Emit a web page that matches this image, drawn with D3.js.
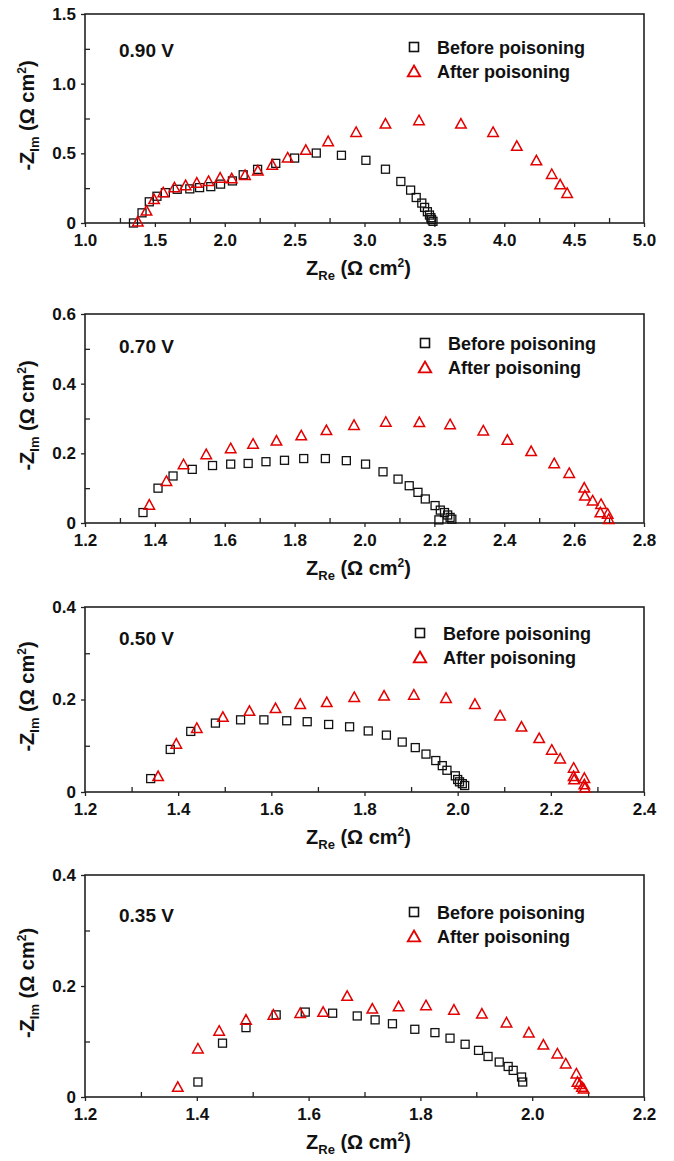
<!DOCTYPE html>
<html>
<head>
<meta charset="utf-8">
<script src="https://cdn.jsdelivr.net/npm/d3@7"></script>
<style>
  body { margin: 0; background: #fff; }
  svg { display: block; }
  text { font-family: "Liberation Sans", Arial, sans-serif; font-weight: bold; fill: #111; }
</style>
</head>
<body>
<svg id="chart" width="674" height="1161"></svg>
<script>
// panel labels and legend names
var voltages = ["0.90 V", "0.70 V", "0.50 V", "0.35 V"];
var seriesNames = ["Before poisoning", "After poisoning"];

// axis ranges and tick steps, one entry per panel
var xDomains = [[1.0, 5.0], [1.2, 2.8], [1.2, 2.4], [1.2, 2.2]];
var yDomains = [[0, 1.5], [0, 0.6], [0, 0.4], [0, 0.4]];
var majorSteps = [0.5, 0.2, 0.2, 0.2];

// [Z_Re, -Z_Im]
var before090 = [[1.347,0],[1.408,0.073],[1.46,0.152],[1.515,0.192],[1.575,0.218],[1.66,0.242],[1.75,0.245],[1.82,0.254],[1.90,0.261],[1.97,0.279],[2.055,0.302],[2.132,0.346],[2.235,0.385],[2.365,0.428],[2.50,0.466],[2.655,0.502],[2.835,0.486],[3.01,0.45],[3.15,0.386],[3.26,0.298],[3.33,0.236],[3.37,0.183],[3.41,0.143],[3.43,0.112],[3.45,0.081],[3.465,0.057],[3.475,0.038],[3.48,0.024],[3.49,0.012]];
var after090 = [[1.378,0.01],[1.44,0.088],[1.494,0.17],[1.56,0.219],[1.64,0.255],[1.72,0.27],[1.80,0.288],[1.884,0.30],[1.967,0.324],[2.05,0.319],[2.145,0.343],[2.237,0.376],[2.34,0.417],[2.45,0.469],[2.58,0.524],[2.74,0.586],[2.94,0.652],[3.15,0.712],[3.39,0.736],[3.69,0.712],[3.92,0.652],[4.09,0.552],[4.23,0.448],[4.34,0.35],[4.40,0.276],[4.45,0.214]];

var before070 = [[1.366,0.030],[1.409,0.100],[1.452,0.135],[1.507,0.154],[1.565,0.165],[1.617,0.169],[1.667,0.171],[1.718,0.176],[1.771,0.180],[1.826,0.185],[1.888,0.185],[1.948,0.179],[2.003,0.169],[2.053,0.147],[2.096,0.126],[2.128,0.107],[2.153,0.088],[2.174,0.069],[2.202,0.050],[2.217,0.037],[2.229,0.030],[2.238,0.023],[2.245,0.016],[2.250,0.011],[2.213,0.009]];
var after070 = [[1.384,0.052],[1.433,0.120],[1.482,0.168],[1.547,0.197],[1.617,0.214],[1.681,0.227],[1.748,0.236],[1.819,0.251],[1.891,0.266],[1.970,0.281],[2.061,0.290],[2.157,0.289],[2.245,0.283],[2.340,0.265],[2.409,0.238],[2.477,0.206],[2.543,0.171],[2.586,0.143],[2.629,0.101],[2.631,0.078],[2.653,0.064],[2.677,0.054],[2.675,0.030],[2.696,0.026],[2.699,0.011]];

var before050 = [[1.341,0.029],[1.383,0.092],[1.427,0.131],[1.480,0.149],[1.534,0.156],[1.584,0.156],[1.633,0.154],[1.677,0.152],[1.723,0.146],[1.768,0.141],[1.808,0.132],[1.847,0.123],[1.881,0.108],[1.909,0.096],[1.932,0.082],[1.953,0.068],[1.967,0.057],[1.977,0.047],[1.995,0.035],[2.000,0.027],[2.004,0.022],[2.010,0.018],[2.015,0.014]];
var after050 = [[1.357,0.034],[1.396,0.104],[1.440,0.138],[1.496,0.162],[1.553,0.175],[1.609,0.181],[1.662,0.190],[1.719,0.194],[1.778,0.205],[1.842,0.208],[1.906,0.210],[1.975,0.203],[2.037,0.190],[2.091,0.165],[2.137,0.141],[2.175,0.116],[2.202,0.091],[2.220,0.072],[2.249,0.052],[2.249,0.034],[2.250,0.027],[2.272,0.030],[2.272,0.016],[2.273,0.009]];

var before035 = [[1.402,0.027],[1.446,0.097],[1.488,0.125],[1.542,0.148],[1.594,0.153],[1.643,0.151],[1.687,0.146],[1.719,0.139],[1.750,0.132],[1.790,0.122],[1.826,0.116],[1.853,0.106],[1.880,0.095],[1.904,0.084],[1.921,0.073],[1.941,0.063],[1.957,0.055],[1.966,0.048],[1.981,0.036],[1.983,0.027]];
var after035 = [[1.366,0.018],[1.402,0.087],[1.440,0.119],[1.488,0.139],[1.537,0.148],[1.585,0.151],[1.626,0.153],[1.669,0.182],[1.714,0.159],[1.761,0.163],[1.810,0.165],[1.860,0.157],[1.910,0.150],[1.954,0.134],[1.994,0.116],[2.020,0.094],[2.045,0.078],[2.060,0.060],[2.079,0.042],[2.081,0.027],[2.085,0.023],[2.089,0.018],[2.092,0.015]];

var beforeSets = [before090, before070, before050, before035];
var afterSets = [after090, after070, after050, after035];

// where each panel sits on the page
var layout = [
  { top: 14,  height: 209, labelY: 43, legY: 33, legX: 414 },
  { top: 314, height: 209, labelY: 39, legY: 29, legX: 425 },
  { top: 607, height: 185, labelY: 38, legY: 26, legX: 420 },
  { top: 875, height: 222, labelY: 47, legY: 37, legX: 414 }
];
var left = 85, right = 644;
var red = "#e30000";

var svg = d3.select("#chart");

function triPath(w, h) {
  return "M0," + (-h * 0.55) + "L" + (w / 2) + "," + (h * 0.45) + "L" + (-w / 2) + "," + (h * 0.45) + "Z";
}

function stepValues(d0, d1, step) {
  var n = Math.round((d1 - d0) / step);
  return d3.range(n + 1).map(function(i) { return +(d0 + i * step).toFixed(4); });
}

layout.forEach(function(L, p) {
  var g = svg.append("g");
  var bottom = L.top + L.height;

  var x = d3.scaleLinear().domain(xDomains[p]).range([left, right]);
  var y = d3.scaleLinear().domain(yDomains[p]).range([bottom, L.top]);

  var major = majorSteps[p];
  var xMajor = stepValues(xDomains[p][0], xDomains[p][1], major);
  var yMajor = stepValues(yDomains[p][0], yDomains[p][1], major);
  var xMinor = stepValues(xDomains[p][0], xDomains[p][1], major / 2).filter(function(v, i) { return i % 2 == 1; });
  var yMinor = stepValues(yDomains[p][0], yDomains[p][1], major / 2).filter(function(v, i) { return i % 2 == 1; });

  // minor ticks point inward
  g.append("g")
    .attr("transform", "translate(0," + bottom + ")")
    .call(d3.axisBottom(x).tickValues(xMinor).tickSize(-5).tickFormat(""));
  g.append("g")
    .attr("transform", "translate(" + left + ",0)")
    .call(d3.axisLeft(y).tickValues(yMinor).tickSize(-5).tickFormat(""));

  // major ticks with labels
  var xAxis = g.append("g")
    .attr("transform", "translate(0," + bottom + ")")
    .call(d3.axisBottom(x).tickValues(xMajor).tickSize(4).tickPadding(7).tickFormat(d3.format(".1f")));
  var yAxis = g.append("g")
    .attr("transform", "translate(" + left + ",0)")
    .call(d3.axisLeft(y).tickValues(yMajor).tickSize(4).tickPadding(5)
      .tickFormat(function(d) { return d == 0 ? "0" : d3.format(".1f")(d); }));

  g.selectAll(".domain").remove();
  g.selectAll(".tick line").attr("stroke", "#222").attr("stroke-width", 1.3);
  g.selectAll(".tick text").style("font-size", "17px").style("font-family", "Liberation Sans, Arial, sans-serif")
    .style("font-weight", "bold").attr("fill", "#111");

  // frame
  g.append("rect")
    .attr("x", left).attr("y", L.top)
    .attr("width", right - left).attr("height", L.height)
    .attr("fill", "none").attr("stroke", "#222").attr("stroke-width", 1.6);

  // before: open black squares
  g.selectAll(".sq").data(beforeSets[p]).enter().append("rect")
    .attr("x", function(d) { return x(d[0]) - 4; })
    .attr("y", function(d) { return y(d[1]) - 4; })
    .attr("width", 8).attr("height", 8)
    .attr("fill", "none").attr("stroke", "#111").attr("stroke-width", 1.3);

  // after: open red triangles
  g.selectAll(".tri").data(afterSets[p]).enter().append("path")
    .attr("d", triPath(10.5, 9.5))
    .attr("transform", function(d) { return "translate(" + x(d[0]) + "," + y(d[1]) + ")"; })
    .attr("fill", "none").attr("stroke", red).attr("stroke-width", 1.5).attr("stroke-linejoin", "miter");

  // voltage label
  g.append("text")
    .attr("x", left + 34).attr("y", L.top + L.labelY)
    .style("font-size", "19px")
    .text(voltages[p]);

  // legend
  var ly = L.top + L.legY;
  g.append("rect")
    .attr("x", L.legX - 4.5).attr("y", ly - 4.5)
    .attr("width", 9).attr("height", 9)
    .attr("fill", "none").attr("stroke", "#111").attr("stroke-width", 1.6);
  g.append("path")
    .attr("d", triPath(12.5, 11))
    .attr("transform", "translate(" + L.legX + "," + (ly + 24.5) + ")")
    .attr("fill", "none").attr("stroke", red).attr("stroke-width", 1.8);
  g.append("text").attr("x", L.legX + 23).attr("y", ly + 6.5)
    .style("font-size", "18px").text(seriesNames[0]);
  g.append("text").attr("x", L.legX + 23).attr("y", ly + 31)
    .style("font-size", "18px").text(seriesNames[1]);

  // x title: Z_Re (Ω cm²)
  var xt = g.append("text")
    .attr("x", (left + right) / 2 - 6).attr("y", bottom + 52)
    .attr("text-anchor", "middle")
    .style("font-size", "20px");
  xt.append("tspan").text("Z");
  xt.append("tspan").attr("dy", 5).style("font-size", "13px").text("Re");
  xt.append("tspan").attr("dy", -5).text(" (\u03A9 cm");
  xt.append("tspan").attr("dy", -8).style("font-size", "12px").text("2");
  xt.append("tspan").attr("dy", 8).text(")");

  // y title: -Z_Im (Ω cm²)
  var yt = g.append("text")
    .attr("transform", "translate(34," + ((L.top + bottom) / 2 - 3) + ") rotate(-90)")
    .attr("text-anchor", "middle")
    .style("font-size", "20px");
  yt.append("tspan").text("-Z");
  yt.append("tspan").attr("dy", 5).style("font-size", "13px").text("Im");
  yt.append("tspan").attr("dy", -5).text(" (\u03A9 cm");
  yt.append("tspan").attr("dy", -8).style("font-size", "12px").text("2");
  yt.append("tspan").attr("dy", 8).text(")");
});
</script>
</body>
</html>
